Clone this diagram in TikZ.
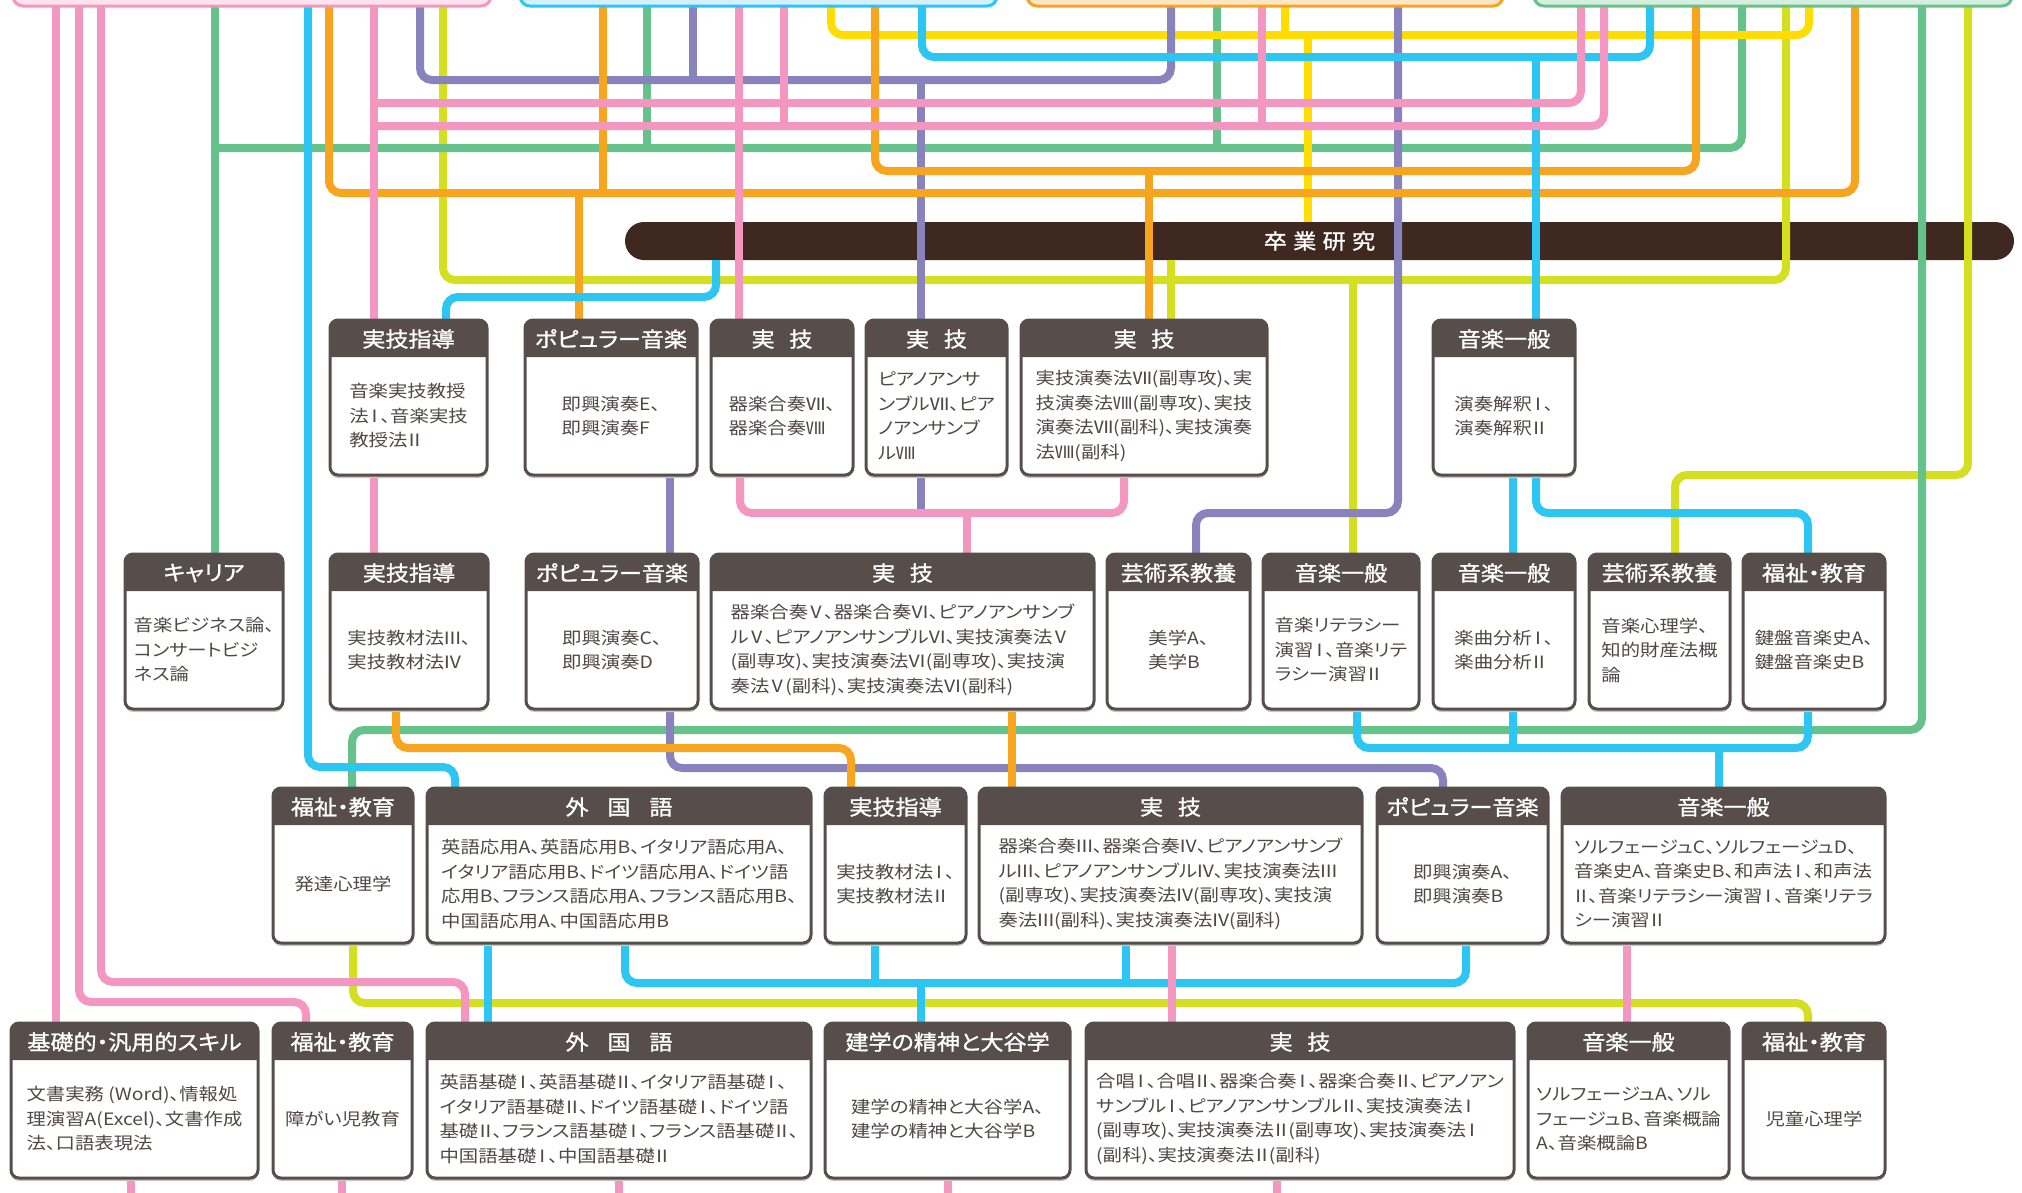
\documentclass[tikz,border=0pt]{standalone}
\usepackage{fontspec}
\usepackage{newunicodechar}
\setmainfont{Noto Sans CJK JP}[RawFeature=+palt]
\newfontfamily\bodyfont{Noto Sans CJK JP}[RawFeature=+palt, FakeStretch=1.14]
\newfontfamily\bodynarrow{Noto Sans CJK JP}[RawFeature=+palt, FakeStretch=1.06]
\newfontfamily\hdrfont{Noto Sans CJK JP}[RawFeature=+palt, FakeStretch=1.1, FakeBold=1.2]
\newunicodechar{Ⅰ}{\kern-.22em\symbol{"2160}\kern-.22em}
\newunicodechar{Ⅱ}{\kern-.15em\symbol{"2161}\kern-.15em}
\newunicodechar{Ⅲ}{\kern-.08em\symbol{"2162}\kern-.08em}
\newunicodechar{Ⅳ}{\kern-.08em\symbol{"2163}\kern-.08em}
\newunicodechar{Ⅴ}{\kern-.1em\symbol{"2164}\kern-.1em}
\newunicodechar{Ⅵ}{\kern-.06em\symbol{"2165}\kern-.06em}
\usetikzlibrary{calc}
\definecolor{cPk}{HTML}{F497C0}
\definecolor{cCy}{HTML}{2DC5F1}
\definecolor{cOr}{HTML}{F7A51E}
\definecolor{cGr}{HTML}{66C28B}
\definecolor{cPu}{HTML}{8983BD}
\definecolor{cYe}{HTML}{FFDD00}
\definecolor{cLi}{HTML}{D5DF21}
\definecolor{cBar}{HTML}{3F2820}
\definecolor{cHdr}{HTML}{574E4B}
\definecolor{cTxt}{HTML}{514845}
\definecolor{cShd}{HTML}{C9C5C3}
\definecolor{cPkL}{HTML}{FDE3EE}
\definecolor{cCyL}{HTML}{D4F0FB}
\definecolor{cOrL}{HTML}{FEE5C5}
\definecolor{cGrL}{HTML}{D6EEDD}
\pgfdeclarelayer{barlayer}
\pgfdeclarelayer{lines}
\pgfsetlayers{barlayer,lines,main}
\tikzset{
  ln/.style={line width=8pt, rounded corners=12pt},
  lpk/.style={ln, draw=cPk},
  lcy/.style={ln, draw=cCy},
  lor/.style={ln, draw=cOr},
  lgr/.style={ln, draw=cGr},
  lpu/.style={ln, draw=cPu},
  lye/.style={ln, draw=cYe},
  lli/.style={ln, draw=cLi},
  card/.style={rectangle, rounded corners=8pt, fill=white, inner sep=0pt, outer sep=0pt},
  cardline/.style={draw=cHdr, line width=3pt, rounded corners=8pt},
  hdrtext/.style={text=white, font=\hdrfont\fontsize{21}{21}\selectfont, inner sep=0pt},
  bodytext/.style={text=cTxt, font=\bodyfont\fontsize{17}{24.5}\selectfont, align=left, inner sep=0pt},
  narrowbody/.style={font=\bodynarrow\fontsize{17}{24.5}\selectfont},
  topbox/.style={rectangle, line width=3pt, rounded corners=10pt, inner sep=0pt, outer sep=0pt, minimum height=80},
}
\newcommand\mcard[8][]{%
  \fill[cShd, rounded corners=8pt] (#3,#4+3) rectangle (#5,#6+3);
  \node[card, minimum width={#5-#3}, minimum height={#6-#4}] (#2) at ({(#3+#5)/2},{(#4+#6)/2}) {};
  \fill[cHdr] ([yshift=-37pt]#2.north west) [rounded corners=8pt] -- (#2.north west) -- (#2.north east) [sharp corners] -- ([yshift=-37pt]#2.north east) -- cycle;
  \draw[cardline] (#2.north west) rectangle (#2.south east);
  \node[hdrtext] (#2h) at ([yshift=-19pt]#2.north) {#7};
  \node[bodytext,#1] (#2t) at ($([yshift=-37pt]#2.north)!0.5!(#2.south)$) {#8};
}
\begin{document}
\begin{tikzpicture}[x=1pt,y=-1pt]
\useasboundingbox (0,0) rectangle (2022,1192);
\begin{pgfonlayer}{barlayer}
\node[fill=cBar, rounded corners=19pt, minimum width=1389, minimum height=38, inner sep=0pt, outer sep=0pt, text=white, font=\hdrfont\fontsize{21}{21}\selectfont] (bar) at (1319.5,241) {卒\hspace{0.3em}業\hspace{0.3em}研\hspace{0.3em}究};
\end{pgfonlayer}

% Row 1
\mcard{A1}{330}{320}{487}{475}{実技指導}{音楽実技教授\\法Ⅰ、音楽実技\\教授法Ⅱ}
\mcard{A2}{525}{320}{697}{475}{ポピュラー音楽}{即興演奏E、\\即興演奏F}
\mcard{A3}{711}{320}{853}{475}{実\hspace{0.7em}技}{器楽合奏Ⅶ、\\器楽合奏Ⅷ}
\mcard{A4}{866}{320}{1007}{475}{実\hspace{0.7em}技}{ピアノアンサ\\ンブルⅦ、ピア\\ノアンサンブ\\ルⅧ}
\mcard{A5}{1021}{320}{1267}{475}{実\hspace{0.7em}技}{実技演奏法Ⅶ(副専攻)、実\\技演奏法Ⅷ(副専攻)、実技\\演奏法Ⅶ(副科)、実技演奏\\法Ⅷ(副科)}
\mcard{A6}{1433}{320}{1575}{475}{音楽一般}{演奏解釈Ⅰ、\\演奏解釈Ⅱ}
% Row 2
\mcard{B1}{125}{554}{283}{709}{キャリア}{音楽ビジネス論、\\コンサートビジ\\ネス論}
\mcard{B2}{330}{554}{488}{709}{実技指導}{実技教材法Ⅲ、\\実技教材法Ⅳ}
\mcard{B3}{526}{554}{698}{709}{ポピュラー音楽}{即興演奏C、\\即興演奏D}
\mcard{B4}{711}{554}{1094}{709}{実\hspace{0.7em}技}{器楽合奏Ⅴ、器楽合奏Ⅵ、ピアノアンサンブ\\ルⅤ、ピアノアンサンブルⅥ、実技演奏法Ⅴ\\(副専攻)、実技演奏法Ⅵ(副専攻)、実技演\\奏法Ⅴ(副科)、実技演奏法Ⅵ(副科)}
\mcard{B5}{1107}{554}{1250}{709}{芸術系教養}{美学A、\\美学B}
\mcard{B6}{1263}{554}{1419}{709}{音楽一般}{音楽リテラシー\\演習Ⅰ、音楽リテ\\ラシー演習Ⅱ}
\mcard{B7}{1433}{554}{1575}{709}{音楽一般}{楽曲分析Ⅰ、\\楽曲分析Ⅱ}
\mcard{B8}{1589}{554}{1730}{709}{芸術系教養}{音楽心理学、\\知的財産法概\\論}
\mcard{B9}{1743}{554}{1885}{709}{福祉・教育}{鍵盤音楽史A、\\鍵盤音楽史B}
% Row 3
\mcard{C1}{273}{788}{413}{943}{福祉・教育}{発達心理学}
\mcard{C2}{427}{788}{811}{943}{外\hspace{0.9em}国\hspace{0.9em}語}{英語応用A、英語応用B、イタリア語応用A、\\イタリア語応用B、ドイツ語応用A、ドイツ語\\応用B、フランス語応用A、フランス語応用B、\\中国語応用A、中国語応用B}
\mcard{C3}{825}{788}{966}{943}{実技指導}{実技教材法Ⅰ、\\実技教材法Ⅱ}
\mcard{C4}{979}{788}{1362}{943}{実\hspace{0.7em}技}{器楽合奏Ⅲ、器楽合奏Ⅳ、ピアノアンサンブ\\ルⅢ、ピアノアンサンブルⅣ、実技演奏法Ⅲ\\(副専攻)、実技演奏法Ⅳ(副専攻)、実技演\\奏法Ⅲ(副科)、実技演奏法Ⅳ(副科)}
\mcard{C5}{1377}{788}{1548}{943}{ポピュラー音楽}{即興演奏A、\\即興演奏B}
\mcard{C6}{1562}{788}{1885}{943}{音楽一般}{ソルフェージュC、ソルフェージュD、\\音楽史A、音楽史B、和声法Ⅰ、和声法\\Ⅱ、音楽リテラシー演習Ⅰ、音楽リテラ\\シー演習Ⅱ}
% Row 4
\mcard{D1}{11}{1023}{258}{1178}{基礎的・汎用的スキル}{文書実務 (Word)、情報処\\理演習A(Excel)、文書作成\\法、口語表現法}
\mcard{D2}{273}{1023}{412}{1178}{福祉・教育}{障がい児教育}
\mcard{D3}{427}{1023}{811}{1178}{外\hspace{0.9em}国\hspace{0.9em}語}{英語基礎Ⅰ、英語基礎Ⅱ、イタリア語基礎Ⅰ、\\イタリア語基礎Ⅱ、ドイツ語基礎Ⅰ、ドイツ語\\基礎Ⅱ、フランス語基礎Ⅰ、フランス語基礎Ⅱ、\\中国語基礎Ⅰ、中国語基礎Ⅱ}
\mcard{D4}{825}{1023}{1070}{1178}{建学の精神と大谷学}{建学の精神と大谷学A、\\建学の精神と大谷学B}
\mcard{D5}{1086}{1023}{1514}{1178}{実\hspace{0.7em}技}{合唱Ⅰ、合唱Ⅱ、器楽合奏Ⅰ、器楽合奏Ⅱ、ピアノアン\\サンブルⅠ、ピアノアンサンブルⅡ、実技演奏法Ⅰ\\(副専攻)、実技演奏法Ⅱ(副専攻)、実技演奏法Ⅰ\\(副科)、実技演奏法Ⅱ(副科)}
\mcard{D6}{1528}{1023}{1729}{1178}{音楽一般}{ソルフェージュA、ソル\\フェージュB、音楽概論\\A、音楽概論B}
\mcard{D7}{1743}{1023}{1885}{1178}{福祉・教育}{児童心理学}

\begin{pgfonlayer}{lines}
% lime
\draw[lli] (443,-20) -- (443,280) -- (1786,280) -- (1786,-20);
\draw[lli] (1353,280) -- (B6.north -| 1353,0);
\draw[lli] (bar.south -| 1171,0) -- (A5.north -| 1171,0);
\draw[lli] (1968,-20) -- (1968,475) -- (1675,475) -- (B8.north -| 1675,0);
\draw[lli] (C1.south -| 353,0) -- (353,1003) -- (1808,1003) -- (D7.north -| 1808,0);
% green
\draw[lgr] (215,-20) -- (B1.north -| 215,0);
\draw[lgr] (215,148) -- (1742,148) -- (1742,-20);
\draw[lgr] (647,-20) -- (647,148);
\draw[lgr] (1217,-20) -- (1217,148);
\draw[lgr] (1922,-20) -- (1922,730) -- (352,730) -- (C1.north -| 352,0);
% yellow
\draw[lye] (831,-20) -- (831,35) -- (1809,35) -- (1809,-20);
\draw[lye] (1285,-20) -- (1285,35);
\draw[lye] (1308,35) -- (bar.north -| 1308,0);
% purple
\draw[lpu] (420,-20) -- (420,80) -- (1171,80) -- (1171,-20);
\draw[lpu] (693,-20) -- (693,80);
\draw[lpu] (921,80) -- (A4.north -| 921,0);
\draw[lpu] (1398,-20) -- (1398,513) -- (1196,513) -- (B5.north -| 1196,0);
\draw[lpu] (A2.south -| 670,0) -- (B3.north -| 670,0);
\draw[lpu] (A4.south -| 921,0) -- (921,513);
\draw[lpu] (B3.south -| 670,0) -- (670,768) -- (1443,768) -- (C5.north -| 1443,0);
% orange
\draw[lor] (329,-20) -- (329,193) -- (1855,193) -- (1855,-20);
\draw[lor] (603,-20) -- (603,193);
\draw[lor] (579,193) -- (A2.north -| 579,0);
\draw[lor] (875,-20) -- (875,171) -- (1696,171) -- (1696,-20);
\draw[lor] (1149,171) -- (A5.north -| 1149,0);
\draw[lor] (B2.south -| 396,0) -- (396,748) -- (851,748) -- (C3.north -| 851,0);
\draw[lor] (B4.south -| 1012,0) -- (C4.north -| 1012,0);
% cyan
\draw[lcy] (922,-20) -- (922,57) -- (1650,57) -- (1650,-20);
\draw[lcy] (1536,57) -- (A6.north -| 1536,0);
\draw[lcy] (bar.south -| 716,0) -- (716,297) -- (446,297) -- (A1.north -| 446,0);
\draw[lcy] (308,-20) -- (308,767) -- (455,767) -- (C2.north -| 455,0);
\draw[lcy] (A6.south -| 1513,0) -- (B7.north -| 1513,0);
\draw[lcy] (A6.south -| 1536,0) -- (1536,513) -- (1808,513) -- (B9.north -| 1808,0);
\draw[lcy] (B6.south -| 1357,0) -- (1357,748) -- (1808,748) -- (B9.south -| 1808,0);
\draw[lcy] (B7.south -| 1513,0) -- (1513,748);
\draw[lcy] (1719,748) -- (C6.north -| 1719,0);
\draw[lcy] (C2.south -| 488,0) -- (D3.north -| 488,0);
\draw[lcy] (C2.south -| 625,0) -- (625,983) -- (1466,983) -- (C5.south -| 1466,0);
\draw[lcy] (C3.south -| 875,0) -- (875,983);
\draw[lcy] (C4.south -| 1126,0) -- (1126,983);
\draw[lcy] (921,983) -- (D4.north -| 921,0);
% pink
\draw[lpk] (374,-20) -- (A1.north -| 374,0);
\draw[lpk] (374,103) -- (1581,103) -- (1581,-20);
\draw[lpk] (374,126) -- (1604,126) -- (1604,-20);
\draw[lpk] (784,-20) -- (784,126);
\draw[lpk] (1262,-20) -- (1262,126);
\draw[lpk] (739,-20) -- (A3.north -| 739,0);
\draw[lpk] (A1.south -| 374,0) -- (B2.north -| 374,0);
\draw[lpk] (A3.south -| 740,0) -- (740,513) -- (1124,513) -- (A5.south -| 1124,0);
\draw[lpk] (967,513) -- (B4.north -| 967,0);
\draw[lpk] (C4.south -| 1172,0) -- (D5.north -| 1172,0);
\draw[lpk] (C6.south -| 1627,0) -- (D6.north -| 1627,0);
\draw[lpk] (56,-20) -- (D1.north -| 56,0);
\draw[lpk] (79,-20) -- (79,1002) -- (306,1002) -- (D2.north -| 306,0);
\draw[lpk] (101,-20) -- (101,982) -- (465,982) -- (D3.north -| 465,0);
\draw[lpk] (D1.south -| 131,0) -- (131,1210);
\draw[lpk] (D2.south -| 342,0) -- (342,1210);
\draw[lpk] (D3.south -| 619,0) -- (619,1210);
\draw[lpk] (D4.south -| 948,0) -- (948,1210);
\draw[lpk] (D5.south -| 1277,0) -- (1277,1210);
\end{pgfonlayer}

% top boxes
\node[topbox, draw=cPk, fill=cPkL, minimum width=478] (T1) at (252,-34) {};
\node[topbox, draw=cCy, fill=cCyL, minimum width=477] (T2) at (758.5,-34) {};
\node[topbox, draw=cOr, fill=cOrL, minimum width=476] (T3) at (1265,-34) {};
\node[topbox, draw=cGr, fill=cGrL, minimum width=478] (T4) at (1773,-34) {};
\end{tikzpicture}
\end{document}
